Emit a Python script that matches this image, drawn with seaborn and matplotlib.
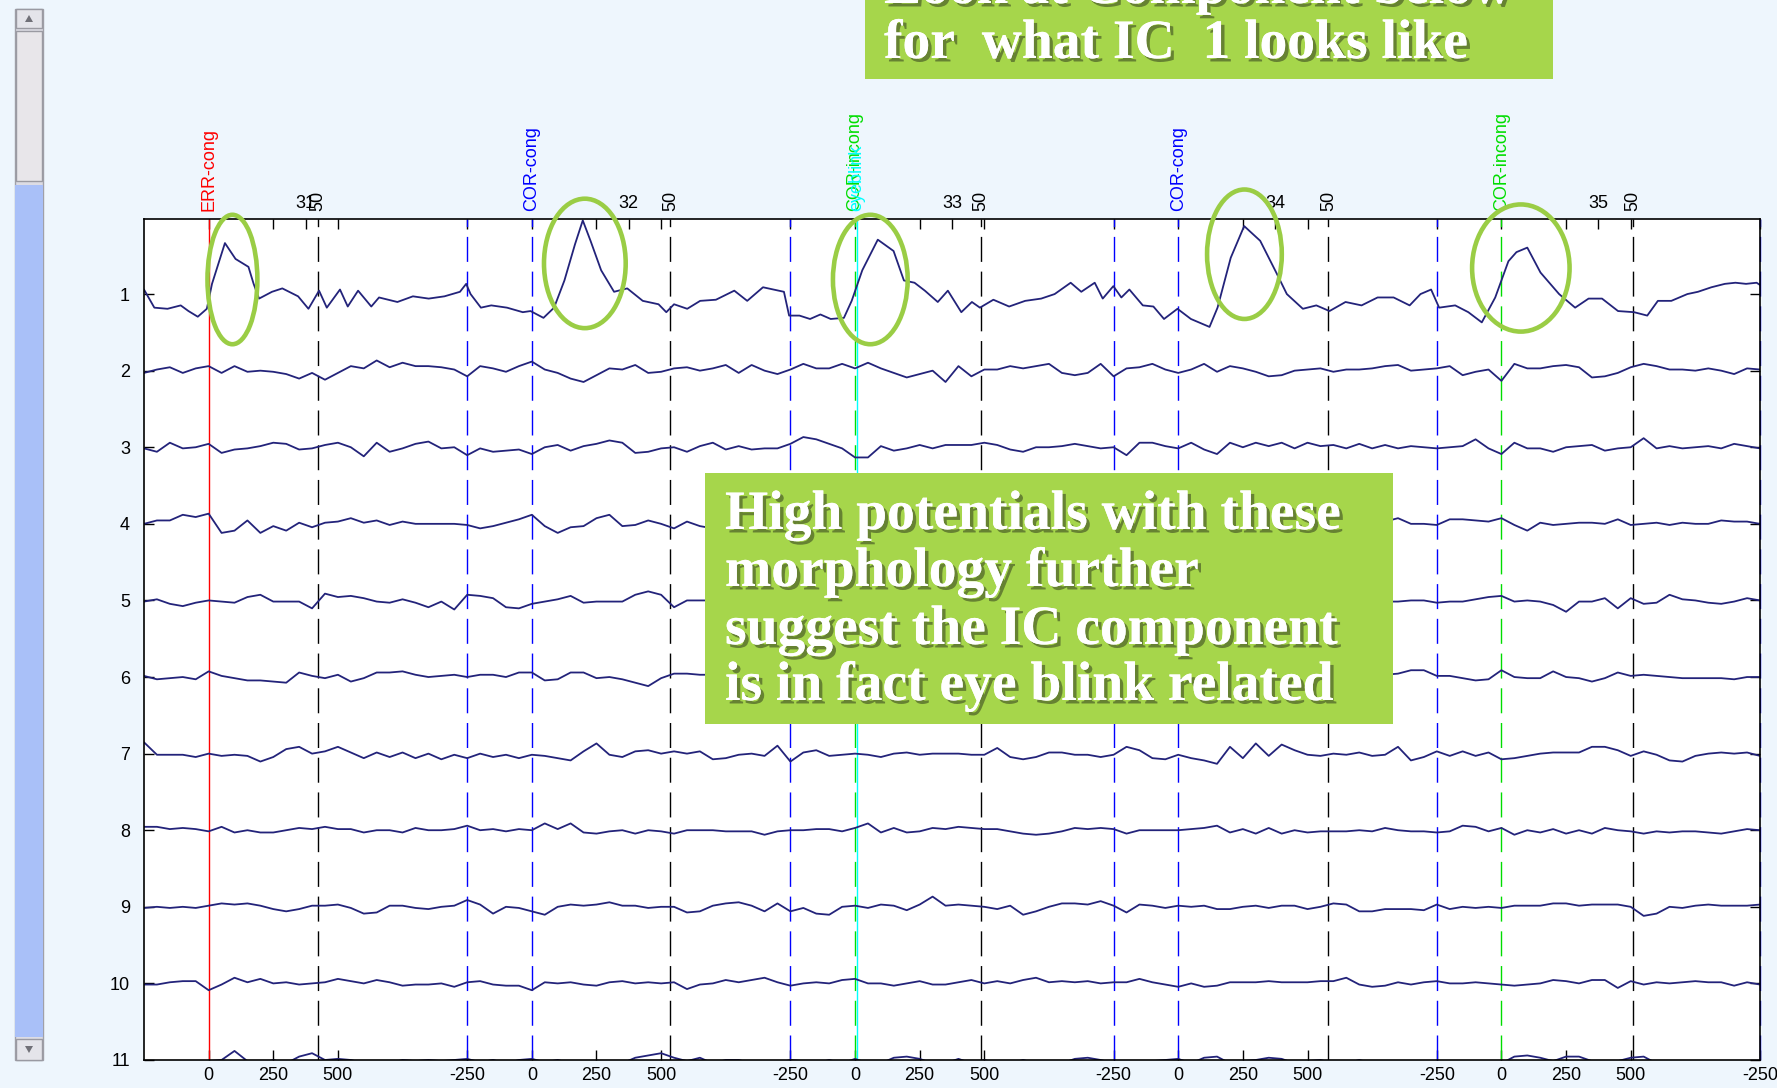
import numpy as np
import matplotlib
matplotlib.use("Agg")
import matplotlib.pyplot as plt
import matplotlib.patheffects as pe
from matplotlib.patches import Ellipse, Rectangle, Polygon
from matplotlib.transforms import blended_transform_factory
import seaborn as sns

sns.set_theme(style="white")
plt.rcParams['font.family'] = ['Liberation Sans', 'DejaVu Sans']

# ---- epoch layout (ms) ----
EPOCH_START = -250
EPOCH_LEN = 1250
epoch_numbers = [31, 32, 33, 34, 35]
channels = list(range(1, 12))
grid_ms = np.arange(0, 6251, 50)   # sample grid of the continuous display
CHAN_SPACING = 67.6                # amplitude units per channel row

# ---- channel 1 (blink component), read point by point ----
ch1_ms = [0, 40, 91, 142, 172, 208, 243, 263, 313, 354,
          404, 424, 445, 495, 535, 596, 636, 677, 707, 758,
          788, 828, 879, 909, 980, 1040, 1101, 1162, 1222, 1246,
          1263, 1303, 1343, 1404, 1465, 1495, 1545, 1586, 1626, 1667,
          1697, 1727, 1768, 1818, 1869, 1929, 1990, 2020, 2050, 2101,
          2151, 2212, 2283, 2333, 2394, 2475, 2495, 2535, 2576, 2616,
          2656, 2707, 2737, 2778, 2838, 2899, 2939, 2980, 3020, 3070,
          3109, 3161, 3202, 3233, 3285, 3346, 3408, 3470, 3522, 3584,
          3625, 3677, 3708, 3749, 3780, 3811, 3863, 3904, 3945, 3997,
          4049, 4121, 4152, 4203, 4255, 4317, 4379, 4420, 4482, 4534,
          4585, 4647, 4709, 4771, 4833, 4895, 4937, 4978, 5009, 5071,
          5122, 5174, 5226, 5277, 5308, 5350, 5401, 5473, 5535, 5587,
          5639, 5701, 5763, 5814, 5855, 5907, 5969, 6010, 6062, 6114,
          6155, 6196, 6237, 6250]
ch1_uv = [4, -12, -13, -10, -15, -20, -13, 9, 45, 31,
          24, 9, -4, 2, 5, -2, -13, 3, -12, 4,
          -11, 3, -11, -3, -7, -2, -4, -2, 2, 9,
          0, -12, -10, -12, -16, -15, -21, -12, 12, 44,
          65, 47, 21, 2, 5, -6, -9, -16, -9, -13,
          -6, -5, 3, -6, 6, 2, -19, -19, -22, -18,
          -22, -21, -6, 21, 48, 38, 12, 10, 3, -7,
          3, -16, -7, -12, -5, -11, -6, -4, 0, 10,
          2, 10, -4, 7, -3, 4, -10, -11, -22, -13,
          -22, -29, -12, 32, 60, 47, 19, 0, -13, -10,
          -15, -7, -10, -3, -3, -10, 0, 4, -12, -10,
          -16, -25, -3, 29, 37, 41, 19, 0, -12, -4,
          -4, -15, -16, -19, -6, -6, 0, 2, 6, 9,
          10, 9, 10, 8]

# ---- channels 2-11 on the 50 ms grid ----
ch2_uv = [-2, 1, 3, -2, 2, 4, -2, 4, -1, 0,
          -1, -3, -7, -2, -8, -2, 4, 2, 9, 3,
          7, 4, 4, 3, 1, -5, 4, 2, -1, 4,
          8, 1, -2, -7, -10, -4, 2, 1, 5, -2,
          -1, 2, 3, 0, 2, 5, -2, 5, 0, -3,
          1, 6, 2, 2, 6, 2, 7, 2, -2, -6,
          -3, 0, -10,
          4, -5, 1, 1, 4, 2, 4, 6, -2, -4,
          -2, 6, -5, 2, 3, 6, 1, -2, 1, 6,
          -1, 4, 2, -1, -5, -4, 0, 1, 2, -1,
          1, 1, 2, 4, 5, 0, 1, 2, 4, -4,
          -1, 1, -9, 6, 2, 2, 4, 5, 3, -6,
          -5, -2, 3, 6, 4, 1, 1, 0, 2, 0,
          -3, 2, 1]
ch3_uv = [-1, -4, 4, -1, 0, 3, -5, -2, -1, 1,
          4, 3, -2, -1, 2, 4, 0, -8, 4, -4,
          -1, 3, 5, -1, 0, -7, -1, -4, -3, -2,
          -6, 0, 2, -3, 1, 3, 6, 4, -5, -4,
          -1, 0, -4, 1, 4, -2, 1, -2, -1, -1,
          3, 9, 7, 3, -1, -9, -9, 1, -3, -1,
          2, -1, 2,
          2, 2, 4, 2, -2, -4, 0, 0, 1, 3,
          1, -1, 0, -7, 4, 4, 1, -1, 4, -2,
          -6, 4, 0, 4, 1, 4, -1, 4, 1, 2,
          -1, 3, -1, 2, -1, 1, 0, -1, 0, 1,
          7, -1, -6, 4, -1, -1, -4, 0, 1, 2,
          -3, -1, 0, 8, -1, 1, -1, 0, 1, -1,
          3, 1, -1]
# channels 4-6 are hidden behind the text box between 2250 and 4750 ms
ch4_left = [0, 3, 3, 8, 6, 9, -8, -6, 3, -8,
            -2, -6, 1, -3, 1, 2, 5, 1, 3, -1,
            2, 0, 0, 0, 0, -1, -4, -2, 1, 4,
            8, -2, -8, -3, -2, 5, 8, -2, -1, 3,
            0, -4, 2, -2, -4]
ch4_right = [2, 5, 0, 0, -1, 4, 4, 3, 2, 5,
             -1, -6, 1, -1, 0, 1, 1, 0, 4, -1,
             0, 1, -1, 1, 0, 0, 3, 2, 2, 0]
ch5_left = [-1, 1, -3, -5, -2, 0, -1, -2, 3, 5,
            -1, -1, -1, -7, 6, 3, 4, 2, -1, -2,
            1, -2, -6, -1, -8, 5, 4, 2, -6, -7,
            -3, -1, 1, 4, -2, -1, -1, -1, 5, 8,
            5, -6, 0, 0, 0]
ch5_right = [-1, -1, 0, 0, -2, -1, -1, 1, 3, 4,
             -1, 0, -1, -4, -10, -1, -1, 2, -7, 2,
             -3, -2, 5, 1, 0, -2, -3, -1, 2, 0]
ch6_left = [1, -2, -1, 0, -2, 5, 1, -1, -3, -3,
            -4, -5, 4, 1, -1, 2, -4, -1, 4, 4,
            5, 2, 0, 1, 2, 0, 2, 2, 0, 4,
            4, -3, -2, 4, 4, -1, 0, -2, -5, -8,
            -1, 3, 3, 2, 2]
ch6_right = [2, 3, 6, 6, 1, 1, -1, -3, -2, 6,
             0, -1, -1, 5, 0, -1, -4, -1, 4, 1,
             2, 1, 0, -1, -1, -1, -1, -2, 0, 0]
ch7_uv = [10, -1, -1, -1, -3, 0, -2, -1, -2, -7,
          -3, 4, 6, 0, 2, 6, 1, -4, 1, -3,
          1, -4, 0, -5, -1, -4, 0, -3, -1, -4,
          -1, -2, -4, -6, 2, 9, -1, -3, 2, 3,
          0, 2, 0, 2, -5, -4, -1, 0, -2, 7,
          -7, 1, 3, -2, -1, 0, -1, -3, 0, 1,
          -1, 0, 0, 0,
          -1, -1, 5, -3, -5, -3, 1, 1, -1, -1,
          -3, -1, 6, 3, -4, -5, -1, -4, -6, -9,
          6, -4, 9, -2, 8, 3, -1, -2, 0, -1,
          1, -2, -1, 6, -6, -3, 2, -2, 2, -2,
          1, -5, -4, -2, 0, 1, 1, 1, 6, 6,
          3, -2, 2, -1, -6, -7, -2, 0, 1, 0,
          1, -2]
ch8_uv = [3, 3, 1, 2, 1, -1, 3, -2, 0, -2,
          -2, 0, 2, 1, 3, 1, 1, -2, 0, 0,
          -2, 2, 0, 0, 1, 4, 0, 1, -1, 1,
          0, 6, 1, 6, -2, -3, -1, 0, -3, 0,
          -1, -3, 0, 0, 0, -1, -1, -1, -4, -1,
          0, 0, 1, 1, -1, 2, 6, -2, 2, -2,
          -1, 2, 1, 3,
          2, 1, 1, -1, -3, -4, -3, -1, 2, 1,
          2, 1, -3, 0, 0, 0, 0, 1, 2, 4,
          -2, 1, -3, 2, -3, 0, -2, -1, -1, -1,
          0, -1, 2, 0, -1, -1, -2, -1, 4, 3,
          -1, 2, -4, 0, -2, 1, -3, 0, -3, 2,
          0, -1, -3, -1, -2, -1, -1, -2, -3, -1,
          1, 0]
ch9_uv = [-1, 0, -1, 0, -1, 1, 3, 2, 3, 1,
          -2, -4, -2, 1, 1, 2, -1, -6, -5, 1,
          1, -1, -2, 0, 1, 6, 2, -6, 0, -1,
          -4, -7, 0, 2, 1, 2, 4, 1, 1, -1,
          0, 0, -5, -4, 1, 3, 4, 1, -4, 3,
          -4, -1, -6, -7, 0, 1, -1, 2, 1, -3,
          2, 9, 1, 2,
          1, 0, -2, 1, -7, -4, 0, 3, 3, 2,
          5, 1, -5, 2, 1, -1, 1, 0, 1, -2,
          -2, 0, 1, -1, 1, 1, -2, 0, 3, 2,
          -4, -4, -2, -2, -2, -3, 2, -2, 0, -1,
          0, -1, 1, 1, 1, 3, 3, 1, 2, 2,
          2, 0, -8, -6, 0, -1, 1, 2, 1, 1,
          1, 2]
ch10_uv = [-1, -1, 1, 2, 2, -6, -1, 5, 1, 4,
           0, 1, -1, 0, 1, 4, 2, 0, 3, 1,
           -2, -1, -1, 0, -3, 1, 2, -1, -2, -2,
           -6, 1, 0, 1, -1, -2, 1, 2, 0, 1,
           0, 1, -5, -1, 0, 3, 1, 3, 5, 1,
           -2, 0, 1, 0, 3, 4, 0, 0, -2, 0,
           2, -1, -1, 1,
           3, 0, 2, 0, 3, 5, 1, 2, 1, 2,
           0, 1, 1, 4, 1, -1, -3, 0, -3, -2,
           1, 1, 1, 2, 1, 1, 1, 2, 2, 5,
           -1, -3, -2, 1, -1, 1, 2, 0, 0, 1,
           0, -1, -2, -1, 0, 3, 2, 0, 3, 3,
           -4, 2, -1, 1, 0, 1, 2, 1, 1, -2,
           1, -1]
ch11_uv = [-2, -1, -3, -1, -3, -1, 0, 8, -1, -3,
           0, -3, 3, 6, 0, 1, 0, -3, -3, -3,
           0, -1, 0, -1, 0, 1, -2, 0, -3, 0,
           1, -2, 0, -3, -3, -3, -2, -3, 2, 4,
           6, 2, -1, 2, -3, 0, 0, -3, -3, -3,
           0, -1, -3, 0, -3, 1, -3, -3, 2, 3,
           1, -3, -3, 1,
           -3, 0, -3, -3, 0, -3, -1, -3, 1, 2,
           0, -3, -3, -3, -1, 0, 1, -3, 2, 3,
           -3, -1, 0, 2, 1, -3, -1, 0, -3, -3,
           0, -3, -3, -1, -1, -3, -1, -3, -3, -3,
           -3, -3, 3, 4, 2, -1, 3, 3, -1, -3,
           -1, 2, 3, -3, -3, -3, -3, -3, -3, -1,
           -3, -3]

hidden = [np.nan] * 51
grid_traces = {
    2: ch2_uv, 3: ch3_uv,
    4: ch4_left + hidden + ch4_right,
    5: ch5_left + hidden + ch5_right,
    6: ch6_left + hidden + ch6_right,
    7: ch7_uv, 8: ch8_uv, 9: ch9_uv, 10: ch10_uv, 11: ch11_uv,
}

# ---- events (epoch index, latency ms, label, colour, style) ----
ev_epoch = [0, 0, 1, 1, 2, 2, 2, 3, 3, 4, 4]
ev_latency = [0, 423, 0, 536, 0, 8, 487, 0, 581, 0, 510]
ev_label = ['ERR-cong', '50', 'COR-cong', '50', 'COR-incong', 'eyeblink',
            '50', 'COR-cong', '50', 'COR-incong', '50']
ev_color = ['#ff0000', '#000000', '#0000ff', '#000000', '#00dd00', '#00ffff',
            '#000000', '#0000ff', '#000000', '#00dd00', '#000000']
ev_style = ['-', '--', '--', '--', '--', '-', '--', '--', '--', '--', '--']

# circled blink peaks (time ms, channel, width ms, height in channels)
blink_ms = [342, 1705, 2809, 4256, 5325]
blink_chan = [0.81, 0.60, 0.81, 0.48, 0.66]
blink_w = [193, 316, 289, 289, 377]
blink_h = [1.69, 1.69, 1.69, 1.69, 1.66]

# x tick labels within each epoch
tick_lat = [-250, 0, 250, 500]

W, H = 1777, 1088
fig = plt.figure(figsize=(W / 100, H / 100), dpi=100)
fig.patch.set_facecolor('#eef6fd')

def fx(px):
    return px / W

def fy(py):
    return 1 - py / H

ax = fig.add_axes([fx(144), fy(1060), fx(1760 - 144), (1060 - 219) / H])
ax.set_facecolor('white')
trace_color = '#23237a'

sns.lineplot(x=ch1_ms, y=[1 - v / CHAN_SPACING for v in ch1_uv], ax=ax,
             color=trace_color, linewidth=1.3, estimator=None, sort=False)
for ch, vals in grid_traces.items():
    y = ch - np.array(vals, dtype=float) / CHAN_SPACING
    sns.lineplot(x=grid_ms, y=y, ax=ax, color=trace_color, linewidth=1.3,
                 estimator=None, sort=False)

n_ep = len(epoch_numbers)
epoch_zero = [k * EPOCH_LEN - EPOCH_START for k in range(n_ep)]
tr = blended_transform_factory(ax.transData, ax.transAxes)

# epoch boundary markers (blue, dashed)
for k in range(1, n_ep + 1):
    ax.axvline(k * EPOCH_LEN, color='#0000ff', lw=1.0, ls=(0, (18, 7)),
               zorder=1, clip_on=False)

for e, lat, lab, col, st in zip(ev_epoch, ev_latency, ev_label, ev_color, ev_style):
    t = epoch_zero[e] + lat
    ls = (0, (18, 7)) if st == '--' else '-'
    ax.axvline(t, color=col, lw=1.0, ls=ls, zorder=1)
    ax.text(t, 1.009, lab, rotation=90, ha='center', va='bottom', color=col,
            fontsize=13, transform=tr)

for t, c, w, h in zip(blink_ms, blink_chan, blink_w, blink_h):
    ax.add_patch(Ellipse((t, c), w, h, fill=False, ec='#9acd45', lw=3.3,
                         clip_on=False, zorder=4))

ax.set_xlim(0, n_ep * EPOCH_LEN)
ax.set_ylim(11, 0.02)

xt, xl = [], []
for k in range(n_ep + 1):
    for lat in tick_lat:
        t = epoch_zero[k] + lat if k < n_ep else n_ep * EPOCH_LEN + lat + 250
        if 0 < t <= n_ep * EPOCH_LEN:
            xt.append(t)
            xl.append(str(lat))
ax.set_xticks(xt)
ax.set_xticklabels(xl, fontsize=13)
ax.set_yticks(channels)
ax.set_yticklabels([str(c) for c in channels], fontsize=13)
ax.tick_params(axis='x', direction='in', top=True, bottom=True, length=7,
               width=1, pad=5, colors='black')
ax.tick_params(axis='y', direction='in', left=True, right=True, length=7,
               width=1, pad=10, colors='black')
for s in ax.spines.values():
    s.set_color('black')
    s.set_linewidth(1.2)

sec = ax.secondary_xaxis('top')
sec.set_xticks([k * EPOCH_LEN + EPOCH_LEN / 2 for k in range(n_ep)])
sec.set_xticklabels([str(n) for n in epoch_numbers], fontsize=13)
sec.tick_params(direction='in', length=7, width=1, pad=5, colors='black')
sec.spines['top'].set_visible(False)

# scrollbar on the left
fig.patches.append(Rectangle((fx(15), fy(1060)), fx(28), (1060 - 9) / H,
                             transform=fig.transFigure, fc='#dcdce4', ec='#a0a0a8', lw=1))
fig.patches.append(Rectangle((fx(15), fy(1037)), fx(28), (1037 - 185) / H,
                             transform=fig.transFigure, fc='#a9c0f8', ec='none'))
fig.patches.append(Rectangle((fx(16), fy(181)), fx(26), (181 - 31) / H,
                             transform=fig.transFigure, fc='#e8e6ea', ec='#9a9aa2', lw=1))
for top, bot in [(9, 28), (1039, 1060)]:
    fig.patches.append(Rectangle((fx(16), fy(bot)), fx(26), (bot - top) / H,
                                 transform=fig.transFigure, fc='#e4e4ea', ec='#9a9aa2', lw=1))
fig.patches.append(Polygon([(fx(25), fy(22)), (fx(33), fy(22)), (fx(29), fy(15))],
                           transform=fig.transFigure, fc='#707078', ec='none'))
fig.patches.append(Polygon([(fx(25), fy(1046)), (fx(33), fy(1046)), (fx(29), fy(1053))],
                           transform=fig.transFigure, fc='#707078', ec='none'))

# green call-out boxes
box_green = '#a6d64b'
fig.patches.append(Rectangle((fx(865), fy(79)), fx(1553 - 865), 0.2,
                             transform=fig.transFigure, fc=box_green, ec='none', zorder=5))
fig.patches.append(Rectangle((fx(705), fy(724)), fx(1393 - 705), (724 - 473) / H,
                             transform=fig.transFigure, fc=box_green, ec='none', zorder=5))

shadow = [pe.withSimplePatchShadow(offset=(2.5, -2.5), shadow_rgbFace='#3c4a22', alpha=0.6),
          pe.Normal()]
box_font = dict(fontsize=40, fontweight='bold', color='white',
                family=['Liberation Serif', 'DejaVu Serif'], va='baseline', ha='left',
                path_effects=shadow, zorder=6)
fig.text(fx(884), fy(3), 'Look at Component below', **box_font)
fig.text(fx(884), fy(58), 'for  what IC  1 looks like', **box_font)
for line, base in zip(['High potentials with these', 'morphology further',
                       'suggest the IC component', 'is in fact eye blink related'],
                      [529, 586, 644, 700]):
    fig.text(fx(725), fy(base), line, **box_font)

fig.savefig('out.png', dpi=100, facecolor=fig.get_facecolor())
plt.close(fig)
